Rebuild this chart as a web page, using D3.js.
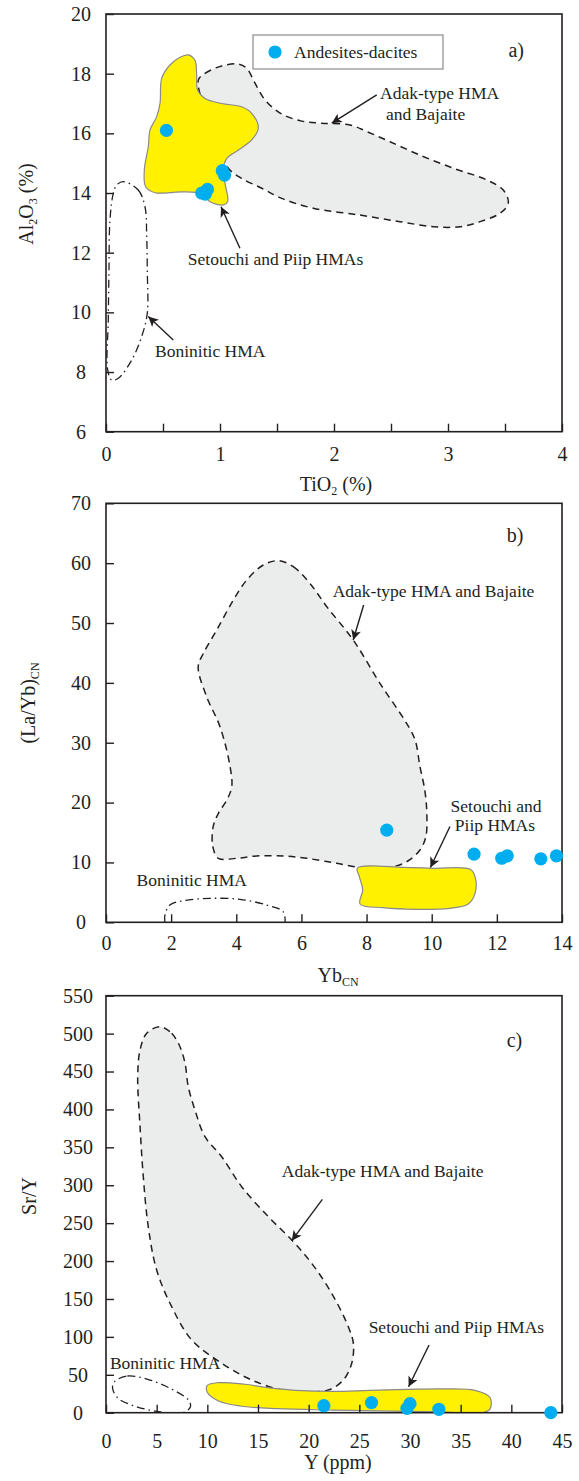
<!DOCTYPE html>
<html><head><meta charset="utf-8">
<script src="https://cdn.jsdelivr.net/npm/d3@7"></script>
<style>
body{margin:0;background:#fff}
svg{display:block}
text{font-family:"Liberation Serif","Times New Roman",serif;fill:#231f20}
</style></head>
<body><svg id="chart" width="579" height="1481"></svg>
<script>
// ---------- Panel a: TiO2 vs Al2O3 ----------
const xTicksA = [0,0.5,1,1.5,2,2.5,3,3.5,4];
const xLabelsA = [0,1,2,3,4];
const yTicksA = [6,8,10,12,14,16,18,20];
const ptsAx = [0.53,1.02,1.04,0.84,0.87,0.89];
const ptsAy = [16.1,14.75,14.6,14.0,13.96,14.12];
const adakA = [[0.81,17.79],[0.868,18.01],[1.015,18.26],[1.161,18.32],[1.234,18.18],[1.307,17.68],[1.395,17.12],[1.541,16.65],[1.717,16.41],[1.892,16.34],[2.14,16.28],[2.287,16.06],[2.491,15.72],[2.754,15.27],[3.047,14.83],[3.339,14.44],[3.485,14.10],[3.529,13.66],[3.456,13.32],[3.281,13.04],[3.105,12.87],[2.871,12.87],[2.579,13.04],[2.228,13.26],[1.818,13.49],[1.541,13.82],[1.366,14.16],[1.19,14.49],[1.073,14.83],[1.0,15.5],[0.85,17.0]];
const setouchiA = [[0.722,18.63],[0.781,18.44],[0.795,18.01],[0.804,17.45],[0.868,17.17],[1.015,17.0],[1.19,16.89],[1.278,16.67],[1.336,16.17],[1.278,15.78],[1.161,15.44],[1.059,15.16],[1.029,14.83],[1.044,14.33],[1.067,13.71],[1.029,13.60],[0.912,13.71],[0.839,13.97],[0.664,14.04],[0.43,14.01],[0.348,14.21],[0.336,14.77],[0.371,15.55],[0.386,16.11],[0.445,16.56],[0.474,17.01],[0.489,17.85],[0.561,18.29],[0.649,18.55]];
const boninA = [[0.152,14.38],[0.283,14.1],[0.342,13.54],[0.357,12.54],[0.362,11.42],[0.362,9.97],[0.313,9.19],[0.225,8.40],[0.108,7.79],[0.05,7.73],[0.015,8.07],[0.02,9.75],[0.026,11.42],[0.035,13.1],[0.064,13.99],[0.094,14.27]];

// ---------- Panel b: Yb_CN vs (La/Yb)_CN ----------
const xTicksB = [0,2,4,6,8,10,12,14];
const yTicksB = [0,10,20,30,40,50,60,70];
const ptsBx = [8.62,11.30,12.15,12.32,13.35,13.83];
const ptsBy = [15.4,11.4,10.7,11.1,10.6,11.1];
const adakB = [[5.29,60.41],[5.75,59.41],[6.26,56.63],[6.78,52.72],[7.59,47.16],[8.41,39.93],[9.23,33.24],[9.49,30.46],[9.64,26.0],[9.79,22.0],[9.85,18.2],[9.82,14.3],[9.64,12.08],[9.23,10.12],[8.72,9.19],[8.0,9.02],[7.08,9.86],[6.16,10.69],[5.44,11.08],[4.63,11.08],[4.01,10.69],[3.45,10.69],[3.28,12.63],[3.29,15.97],[3.45,18.21],[3.71,20.43],[3.86,22.65],[3.81,26.0],[3.50,32.68],[3.09,37.69],[2.83,42.70],[2.99,44.94],[3.40,48.83],[3.91,53.84],[4.32,57.18],[4.83,59.69]];
const setouchiB = [[7.72,9.05],[9.13,9.19],[10.05,9.02],[11.18,8.85],[11.33,7.62],[11.33,4.84],[11.12,3.06],[10.56,2.34],[9.54,2.17],[8.51,2.44],[7.8,3.06],[7.88,5.4],[7.78,7.6]];
const boninB = [[1.81,0],[1.81,1.22],[1.96,2.89],[2.37,3.61],[3.19,4.0],[4.11,3.84],[4.93,2.89],[5.44,1.77],[5.50,0]];

// ---------- Panel c: Y vs Sr/Y ----------
const xTicksC = [0,5,10,15,20,25,30,35,40,45];
const yTicksC = [0,50,100,150,200,250,300,350,400,450,500,550];
const ptsCx = [21.5,26.2,29.7,30.0,32.85,43.9];
const ptsCy = [9.2,13.2,5.8,11.9,4.5,0.0];
const adakC = [[5.33,509.1],[6.48,500.4],[7.30,482.7],[7.80,460.8],[8.12,430.0],[8.78,399.2],[9.77,364.0],[11.42,337.6],[13.39,298.1],[16.02,258.5],[18.33,227.8],[20.30,197.0],[22.27,157.5],[23.91,113.4],[24.41,91.5],[24.25,65.2],[23.42,43.1],[21.94,29.9],[19.64,27.7],[17.34,29.9],[14.38,43.1],[11.42,65.2],[8.46,95.9],[6.48,139.8],[5.0,188.2],[4.17,245.3],[3.68,311.3],[3.36,377.2],[3.13,443.2],[3.36,478.4],[4.02,500.4]];
const setouchiC = [[10.0,36],[11.1,39.6],[13.7,37.5],[16,33],[18.7,29.5],[22.4,28],[26,29.5],[29.7,30.8],[33.3,31.5],[36.4,29.5],[37.9,20],[37.9,5],[37.3,0.5],[33,1],[29.7,1.8],[22.4,3.5],[16.9,5.3],[13.25,8.8],[11.06,15.8],[10.0,27]];
const boninC = [[0.84,40.9],[2.11,48.4],[4.12,44.0],[6.32,32.2],[8.14,16.7],[8.33,7.9],[7.6,0],[5.23,1.3],[3.03,7.9],[1.2,19.0],[0.65,32.2]];

// ---------- drawing ----------
const svg = d3.select("#chart");
const defs = svg.append("defs");
defs.append("marker").attr("id","ah").attr("viewBox","0 0 10 10")
  .attr("refX",10).attr("refY",5).attr("markerWidth",15).attr("markerHeight",10)
  .attr("markerUnits","userSpaceOnUse").attr("orient","auto")
  .append("path").attr("d","M0,0 L10,5 L0,10 L2.5,5 z").attr("fill","#231f20");

const L = 106, R = 562;
const INK = "#231f20";

function drawPanel(cfg){
  const x = d3.scaleLinear().domain(cfg.xDomain).range([L,R]);
  const y = d3.scaleLinear().domain(cfg.yDomain).range([cfg.bottom,cfg.top]);
  const g = svg.append("g");
  const cid = "clip"+cfg.id;
  defs.append("clipPath").attr("id",cid).append("rect")
    .attr("x",L).attr("y",cfg.top).attr("width",R-L).attr("height",cfg.bottom-cfg.top);
  const regions = g.append("g").attr("clip-path",`url(#${cid})`);
  const closed = d3.line().x(d=>x(d[0])).y(d=>y(d[1])).curve(d3.curveCatmullRomClosed.alpha(0.5));
  const open = d3.line().x(d=>x(d[0])).y(d=>y(d[1])).curve(d3.curveCatmullRom.alpha(0.5));
  regions.append("path").attr("d",closed(cfg.adak))
    .attr("fill","#ebeded").attr("stroke",INK).attr("stroke-width",1.5).attr("stroke-dasharray","7,5");
  regions.append("path").attr("d",(cfg.boninOpen?open:closed)(cfg.bonin))
    .attr("fill","none").attr("stroke",INK).attr("stroke-width",1.3).attr("stroke-dasharray","8,4,1.5,4");
  regions.append("path").attr("d",closed(cfg.setouchi))
    .attr("fill","#fff100").attr("stroke","#8a8a8a").attr("stroke-width",1.2);

  // frame
  g.append("rect").attr("x",L).attr("y",cfg.top).attr("width",R-L).attr("height",cfg.bottom-cfg.top)
    .attr("fill","none").attr("stroke",INK).attr("stroke-width",1.6);

  // axes
  const xa = d3.axisBottom(x).tickValues(cfg.xTicks).tickSizeInner(-8).tickSizeOuter(0)
    .tickPadding(cfg.xPad).tickFormat(d=>cfg.xLabels.includes(d)?d3.format("d")(d):"");
  const gx = g.append("g").attr("transform",`translate(0,${cfg.bottom})`).call(xa);
  const ya = d3.axisLeft(y).tickValues(cfg.yTicks).tickSizeInner(-8).tickSizeOuter(0)
    .tickPadding(0).tickFormat(d3.format("d"));
  const gy = g.append("g").attr("transform",`translate(${L},0)`).call(ya);
  [gx,gy].forEach(a=>{
    a.attr("font-family",null).attr("font-size",null);
    a.select(".domain").remove();
    a.selectAll(".tick line").attr("stroke",INK).attr("stroke-width",1.4);
    a.selectAll(".tick text").attr("fill",INK).style("font-size","20px");
  });
  gy.selectAll(".tick text").attr("text-anchor","middle").attr("x",cfg.yLabX - L);

  // region labels & arrows
  cfg.texts.forEach(t=>{
    g.append("text").attr("x",x(t[0])).attr("y",y(t[1])).style("font-size",(t[3]||17.5)+"px").text(t[2]);
  });
  cfg.arrows.forEach(a=>{
    g.append("line").attr("x1",x(a[0])).attr("y1",y(a[1])).attr("x2",x(a[2])).attr("y2",y(a[3]))
      .attr("stroke",INK).attr("stroke-width",1.4).attr("marker-end","url(#ah)");
  });

  // points
  g.append("g").selectAll("circle").data(cfg.px.map((v,i)=>[v,cfg.py[i]])).join("circle")
    .attr("cx",d=>x(d[0])).attr("cy",d=>y(d[1])).attr("r",6.6).attr("fill","#00aeef");

  // axis titles
  const xt = g.append("text").attr("x",(L+R)/2 + cfg.xTitleDx).attr("y",cfg.xTitleY)
    .attr("text-anchor","middle").style("font-size","20px");
  cfg.xTitle.forEach(p=>xt.append("tspan").text(p[0]).style("font-size",p[1]?"12px":null)
    .attr("dy",p[2]||0));
  const yt = g.append("text").attr("transform",`translate(${cfg.yTitleX},${cfg.yTitleY}) rotate(-90)`)
    .attr("text-anchor","middle").style("font-size","20px");
  cfg.yTitle.forEach(p=>yt.append("tspan").text(p[0]).style("font-size",p[1]?"12px":null)
    .attr("dy",p[2]||0));
  return {x,y,g};
}

const A = drawPanel({id:"a", xDomain:[0,4], yDomain:[6,20], top:14, bottom:431.7,
  xTicks:xTicksA, xLabels:xLabelsA, yTicks:yTicksA, xPad:15, yLabX:81,
  adak:adakA, setouchi:setouchiA, bonin:boninA, px:ptsAx, py:ptsAy,
  texts:[[2.404,17.15,"Adak-type HMA"],[2.456,16.45,"and Bajaite"],[0.7175,11.59,"Setouchi and Piip HMAs"],[0.43,8.495,"Boninitic HMA"],[3.53,18.55,"a)",20]],
  arrows:[[2.375,17.29,1.98,16.34],[1.175,12.15,1.009,13.54],[0.59,9.07,0.371,9.86]],
  xTitle:[["TiO"],["2",1,4],[" (%)",0,-4]], xTitleY:491, xTitleDx:2,
  yTitle:[["Al"],["2",1,4],["O",0,-4],["3",1,4],[" (%)",0,-4]], yTitleX:33, yTitleY:204});

// legend (panel a)
A.g.append("rect").attr("x",253).attr("y",35).attr("width",190).attr("height",34)
  .attr("fill","#fff").attr("stroke","#8a8a8a").attr("stroke-width",1.2);
A.g.append("circle").attr("cx",275).attr("cy",52).attr("r",6.6).attr("fill","#00aeef");
A.g.append("text").attr("x",294).attr("y",58).style("font-size","17.5px").text("Andesites-dacites");

drawPanel({id:"b", xDomain:[0,14], yDomain:[0,70], top:503.3, bottom:922.3,
  xTicks:xTicksB, xLabels:xTicksB, yTicks:yTicksB, xPad:14, yLabX:81,
  adak:adakB, setouchi:setouchiB, bonin:boninB, boninOpen:true, px:ptsBx, py:ptsBy,
  texts:[[6.96,54.3,"Adak-type HMA and Bajaite"],[12.30,63.6,"b)",20],[10.58,18.5,"Setouchi and"],[10.71,15.2,"Piip HMAs"],[0.94,6.06,"Boninitic HMA"]],
  arrows:[[7.91,53.0,7.59,47.16],[10.56,16.0,9.96,9.15]],
  xTitle:[["Yb"],["CN",1,4]], xTitleY:982, xTitleDx:4,
  yTitle:[["(La/Yb)"],["CN",1,4]], yTitleX:35, yTitleY:703});

drawPanel({id:"c", xDomain:[0,45], yDomain:[0,550], top:995.7, bottom:1412.7,
  xTicks:xTicksC, xLabels:xTicksC, yTicks:yTicksC, xPad:21, yLabX:78,
  adak:adakC, setouchi:setouchiC, bonin:boninC, px:ptsCx, py:ptsCy,
  texts:[[17.35,310.5,"Adak-type HMA and Bajaite"],[39.54,482.7,"c)",20],[25.92,104.7,"Setouchi and Piip HMAs"],[0.39,57.2,"Boninitic HMA"]],
  arrows:[[21.35,281.4,18.33,226.9],[31.88,89.3,29.86,34.3]],
  xTitle:[["Y (ppm)"]], xTitleY:1469, xTitleDx:4,
  yTitle:[["Sr/Y"]], yTitleX:36, yTitleY:1196});
</script></body></html>
